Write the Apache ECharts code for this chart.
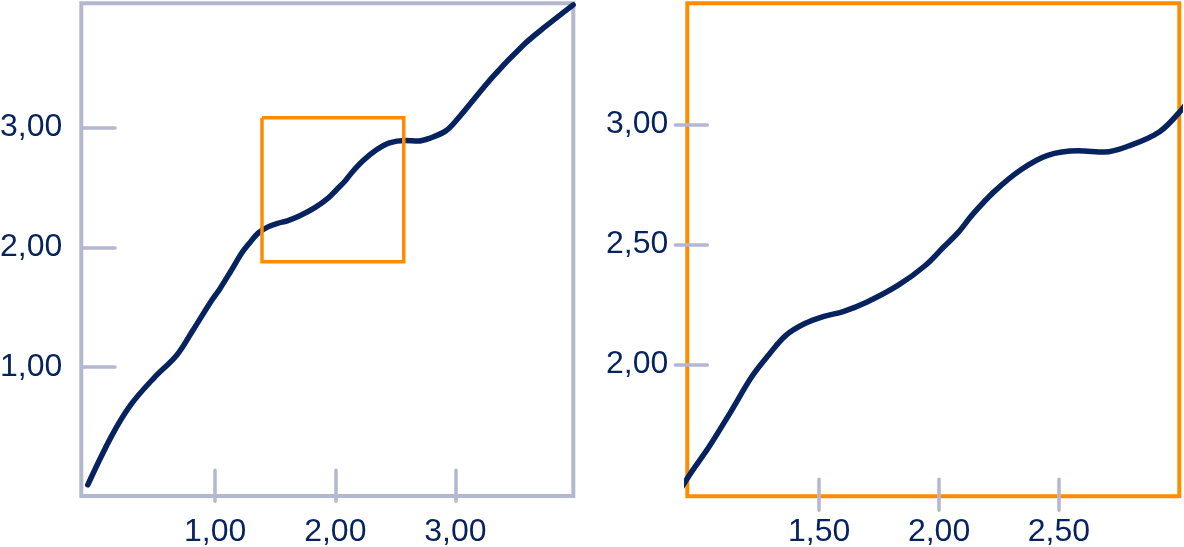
<!DOCTYPE html>
<html>
<head>
<meta charset="utf-8">
<script src="https://cdn.jsdelivr.net/npm/echarts@6/dist/echarts.min.js"></script>
<style>
  html, body { margin: 0; padding: 0; background: #ffffff; }
  #chart { width: 1184px; height: 547px; }
</style>
</head>
<body>
<div id="chart"></div>
<script>
// ---- data ----
const xValues = [-0.06, 0.14, 0.30, 0.49, 0.68, 0.81, 0.96, 1.04, 1.13, 1.22, 1.29, 1.36, 1.44, 1.52, 1.60, 1.70, 1.83, 1.94, 2.02, 2.08, 2.14, 2.23, 2.34, 2.45, 2.58, 2.69, 2.79, 2.92, 3.01, 3.31, 3.56, 3.75, 3.98];
const yValues = [0.02, 0.43, 0.69, 0.91, 1.10, 1.30, 1.54, 1.655, 1.80, 1.95, 2.04, 2.12, 2.17, 2.20, 2.22, 2.26, 2.33, 2.41, 2.49, 2.55, 2.625, 2.72, 2.81, 2.87, 2.89, 2.885, 2.91, 2.97, 3.06, 3.42, 3.68, 3.84, 4.02];
const rectX = [1.39, 2.57];
const rectY = [1.88, 3.08];
const overviewXTicks = [1, 2, 3];
const overviewYTicks = [1, 2, 3];
const detailXTicks = [1.5, 2, 2.5];
const detailYTicks = [2, 2.5, 3];
const overviewRange = { x: [-0.114, 3.981], y: [-0.073, 4.033] };
const detailRange = { x: [0.950, 3.002], y: [1.450, 3.505] };

// ---- build ----
const points = xValues.map((x, i) => [x, yValues[i]]);
const rectPoints = [
  [rectX[0], rectY[1]], [rectX[1], rectY[1]], [rectX[1], rectY[0]], [rectX[0], rectY[0]], [rectX[0], rectY[1]]
];

const NAVY = '#06235f';
const GRAY = '#b3b8d0';
const ORANGE = '#ff8c00';
const FONT = 'Liberation Sans, Arial, sans-serif';
const FONT_SIZE = 32;
const fmt = v => Number(v).toFixed(2).replace('.', ',');

function xAxes(grid, range, ticks) {
  const base = {
    type: 'value', gridIndex: grid, position: 'bottom', min: range[0], max: range[1],
    z: 1, splitLine: { show: false }, axisLine: { show: false }
  };
  return [
    Object.assign({}, base, {
      axisTick: { show: true, inside: false, length: 14, customValues: ticks,
        lineStyle: { color: GRAY, width: 3.5, cap: 'round' } },
      axisLabel: { show: true, customValues: ticks, formatter: fmt, margin: 20,
        color: NAVY, fontSize: FONT_SIZE, fontFamily: FONT }
    }),
    Object.assign({}, base, {
      axisTick: { show: true, inside: true, length: 17, customValues: ticks,
        lineStyle: { color: GRAY, width: 3.5, cap: 'round' } },
      axisLabel: { show: false }
    })
  ];
}
function yAxes(grid, range, ticks) {
  const base = {
    type: 'value', gridIndex: grid, position: 'left', min: range[0], max: range[1],
    z: 1, splitLine: { show: false }, axisLine: { show: false }
  };
  return [
    Object.assign({}, base, {
      axisTick: { show: true, inside: false, length: 12, customValues: ticks,
        lineStyle: { color: GRAY, width: 3.5, cap: 'round' } },
      axisLabel: { show: true, customValues: ticks, formatter: fmt, margin: 19,
        color: NAVY, fontSize: FONT_SIZE, fontFamily: FONT }
    }),
    Object.assign({}, base, {
      axisTick: { show: true, inside: true, length: 20, customValues: ticks,
        lineStyle: { color: GRAY, width: 3.5, cap: 'round' } },
      axisLabel: { show: false }
    })
  ];
}

const chart = echarts.init(document.getElementById('chart'), null, { renderer: 'canvas' });
chart.setOption({
  animation: false,
  backgroundColor: '#ffffff',
  grid: [
    { left: 81.3, top: 3.3, width: 492, height: 492.7, show: true, borderColor: GRAY, borderWidth: 4,
      backgroundColor: 'transparent', z: 0, containLabel: false, outerBoundsMode: 'none' },
    { left: 687.3, top: 3.3, width: 492, height: 493, show: true, borderColor: ORANGE, borderWidth: 4,
      backgroundColor: 'transparent', z: 0, containLabel: false, outerBoundsMode: 'none' }
  ],
  xAxis: [].concat(xAxes(0, overviewRange.x, overviewXTicks), xAxes(1, detailRange.x, detailXTicks)),
  yAxis: [].concat(yAxes(0, overviewRange.y, overviewYTicks), yAxes(1, detailRange.y, detailYTicks)),
  series: [
    {
      type: 'line', xAxisIndex: 0, yAxisIndex: 0, data: points, smooth: 0.35,
      showSymbol: false, symbol: 'none', clip: false, z: 2,
      lineStyle: { color: NAVY, width: 5.5, cap: 'round', join: 'round' }
    },
    {
      type: 'line', xAxisIndex: 0, yAxisIndex: 0, data: rectPoints, smooth: false,
      showSymbol: false, symbol: 'none', clip: false, z: 3,
      lineStyle: { color: ORANGE, width: 3.5, join: 'miter' }
    },
    {
      type: 'line', xAxisIndex: 2, yAxisIndex: 2, data: points, smooth: 0.35,
      showSymbol: false, symbol: 'none', clip: true, z: 2,
      lineStyle: { color: NAVY, width: 5.5, cap: 'round', join: 'round' }
    }
  ]
});
</script>
</body>
</html>
